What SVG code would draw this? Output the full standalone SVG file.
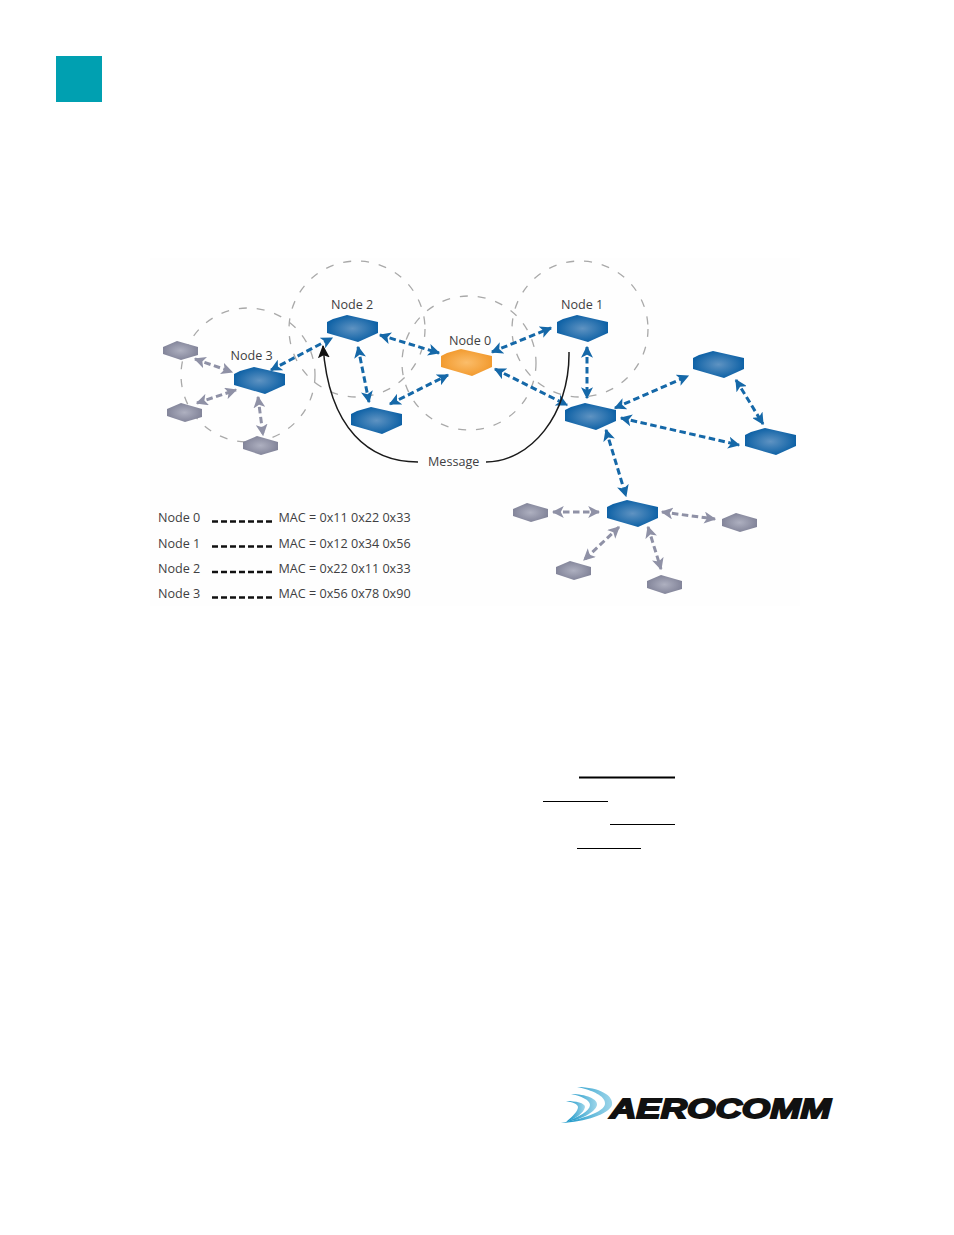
<svg xmlns="http://www.w3.org/2000/svg" width="954" height="1235" viewBox="0 0 954 1235">
<style>
text{font-family:"Open Sans","Noto Sans","Liberation Sans",sans-serif;fill:#3f3f42;font-size:12.6px}
.ring{fill:none;stroke:#a9a9a9;stroke-width:1.3;stroke-dasharray:8 10}
.b{fill:none;stroke:#1568a8;stroke-width:3;stroke-dasharray:6.5 3.5;marker-start:url(#ab);marker-end:url(#ab)}
.g{fill:none;stroke:#8f91a6;stroke-width:3;stroke-dasharray:6.5 3.5;marker-start:url(#ag);marker-end:url(#ag)}
.m{fill:none;stroke:#1a1a1a;stroke-width:1.5}
.d{fill:none;stroke:#111;stroke-width:2.400;stroke-dasharray:6 3}
.s{fill:url(#sw)}
</style>
<defs>
<radialGradient id="gb"><stop offset="0" stop-color="#5f93c2"/><stop offset="1" stop-color="#0f62a6"/></radialGradient>
<radialGradient id="go"><stop offset="0" stop-color="#fbbd6a"/><stop offset="1" stop-color="#f29b30"/></radialGradient>
<radialGradient id="gg"><stop offset="0" stop-color="#aeb0c0"/><stop offset="1" stop-color="#83859a"/></radialGradient>
<linearGradient id="sw" x1="0" y1="0" x2="1" y2="0"><stop offset="0" stop-color="#0a8fc4"/><stop offset="1" stop-color="#9fd6ea"/></linearGradient>
<polygon id="hex" points="0,7 6,4 20,0 51,7 51,18 31,27 0,18"/>
<polygon id="small" points="0,6 14,0 35,6 35,14 18,19 0,13"/>
<marker id="ab" viewBox="0 0 10 10" refX="9" refY="5" markerUnits="userSpaceOnUse" markerWidth="12" markerHeight="12" orient="auto-start-reverse"><path d="M0,0 L10,5 L0,10 L2.500,5 Z" fill="#1568a8"/></marker>
<marker id="ag" viewBox="0 0 10 10" refX="9" refY="5" markerUnits="userSpaceOnUse" markerWidth="12" markerHeight="12" orient="auto-start-reverse"><path d="M0,0 L10,5 L0,10 L2.500,5 Z" fill="#8f91a6"/></marker>
<marker id="ak" viewBox="0 0 12 12" refX="11" refY="6" markerUnits="userSpaceOnUse" markerWidth="13" markerHeight="13" orient="auto"><path d="M0,0.500 L12,6 L0,11.500 L2.500,6 Z" fill="#111"/></marker>
</defs>
<rect x="56" y="56" width="46" height="46" fill="#00a0b1"/>
<rect x="150" y="258" width="650" height="348" fill="#fefefe"/>
<g id="rings">
<circle class="ring" cx="248" cy="375" r="67"/>
<circle class="ring" cx="357" cy="329" r="68"/>
<circle class="ring" cx="469" cy="363" r="67"/>
<circle class="ring" cx="580" cy="329" r="68"/>
</g>
<g id="connectors">
<path class="b" d="M271,370 L332,338"/>
<path class="b" d="M380,335 L439,353"/>
<path class="b" d="M358,347 L369,402"/>
<path class="b" d="M390,404 L448,375"/>
<path class="b" d="M492,352 L551,328"/>
<path class="b" d="M495,369 L567,405"/>
<path class="b" d="M587,347 L587,398"/>
<path class="b" d="M615,408 L688,376"/>
<path class="b" d="M621,418 L739,445"/>
<path class="b" d="M736,380 L763,424"/>
<path class="b" d="M606,430 L626,496"/>
<path class="g" d="M195,359 L232,372"/>
<path class="g" d="M197,403 L236,390"/>
<path class="g" d="M258,397 L263,435"/>
<path class="g" d="M553,512 L599,512"/>
<path class="g" d="M662,512 L715,519"/>
<path class="g" d="M619,527 L584,560"/>
<path class="g" d="M648,527 L661,569"/>
<path class="m" d="M418,462 C370,462 329,430 323,346" marker-end="url(#ak)"/>
<path class="m" d="M486,462 C530,462 570,415 569,352"/>
</g>
<g id="node2"><use href="#hex" x="327" y="315" fill="url(#gb)"/><text x="331" y="309">Node 2</text></g>
<g id="node3"><use href="#hex" x="234" y="367" fill="url(#gb)"/><text x="230.500" y="360">Node 3</text></g>
<g id="node4"><use href="#hex" x="351" y="407" fill="url(#gb)"/></g>
<g id="node1"><use href="#hex" x="557" y="315" fill="url(#gb)"/><text x="561" y="309">Node 1</text></g>
<g id="node0"><use href="#hex" x="441" y="349" fill="url(#go)"/><text x="449" y="345">Node 0</text></g>
<g id="node5"><use href="#hex" x="565" y="403" fill="url(#gb)"/></g>
<g id="node6"><use href="#hex" x="693" y="351" fill="url(#gb)"/></g>
<g id="node7"><use href="#hex" x="745" y="428" fill="url(#gb)"/></g>
<g id="node8"><use href="#hex" x="607" y="500" fill="url(#gb)"/></g>
<g id="g1"><use href="#small" x="163" y="341" fill="url(#gg)"/></g>
<g id="g2"><use href="#small" x="167" y="403" fill="url(#gg)"/></g>
<g id="g3"><use href="#small" x="243" y="436" fill="url(#gg)"/></g>
<g id="g4"><use href="#small" x="513" y="503" fill="url(#gg)"/></g>
<g id="g5"><use href="#small" x="722" y="513" fill="url(#gg)"/></g>
<g id="g6"><use href="#small" x="556" y="561" fill="url(#gg)"/></g>
<g id="g7"><use href="#small" x="647" y="575" fill="url(#gg)"/></g>
<g id="message"><text x="428" y="466">Message</text></g>
<g id="legend">
<text x="158" y="522">Node 0</text><path class="d" d="M212,521.500H272"/><text x="278.500" y="522">MAC = 0x11 0x22 0x33</text>
<text x="158" y="547.500">Node 1</text><path class="d" d="M212,546.500H272"/><text x="278.500" y="547.500">MAC = 0x12 0x34 0x56</text>
<text x="158" y="573">Node 2</text><path class="d" d="M212,572H272"/><text x="278.500" y="573">MAC = 0x22 0x11 0x33</text>
<text x="158" y="598">Node 3</text><path class="d" d="M212,597.500H272"/><text x="278.500" y="598">MAC = 0x56 0x78 0x90</text>
</g>
<g id="rules">
<rect x="579" y="776.500" width="96" height="2"/>
<rect x="543" y="801" width="65" height="1"/>
<rect x="610" y="824" width="65" height="1"/>
<rect x="577" y="848" width="64" height="1"/>
</g>
<g id="logo">
<path class="s" d="M577,1087 C600,1087 614,1096 612,1105 C609,1114 585,1122 561,1123 C582,1119 604,1112 605,1104 C606,1096 592,1090 577,1087 Z"/>
<path class="s" d="M571,1094 C586,1094 598,1099 597,1105 C595,1113 580,1120 566,1122 C578,1117 590,1111 590,1105 C590,1100 581,1096 571,1094 Z"/>
<path class="s" d="M566,1101 C576,1101 585,1103 585,1107 C584,1113 575,1119 566,1122 C573,1116 578,1111 578,1107 C578,1104 572,1102 566,1101 Z"/>
<text x="610" y="1118" textLength="221" lengthAdjust="spacingAndGlyphs" style="font-family:'Liberation Sans',sans-serif;font-weight:700;font-style:italic;font-size:28px;fill:#111;stroke:#111;stroke-width:1.800">AEROCOMM</text>
</g>
</svg>
